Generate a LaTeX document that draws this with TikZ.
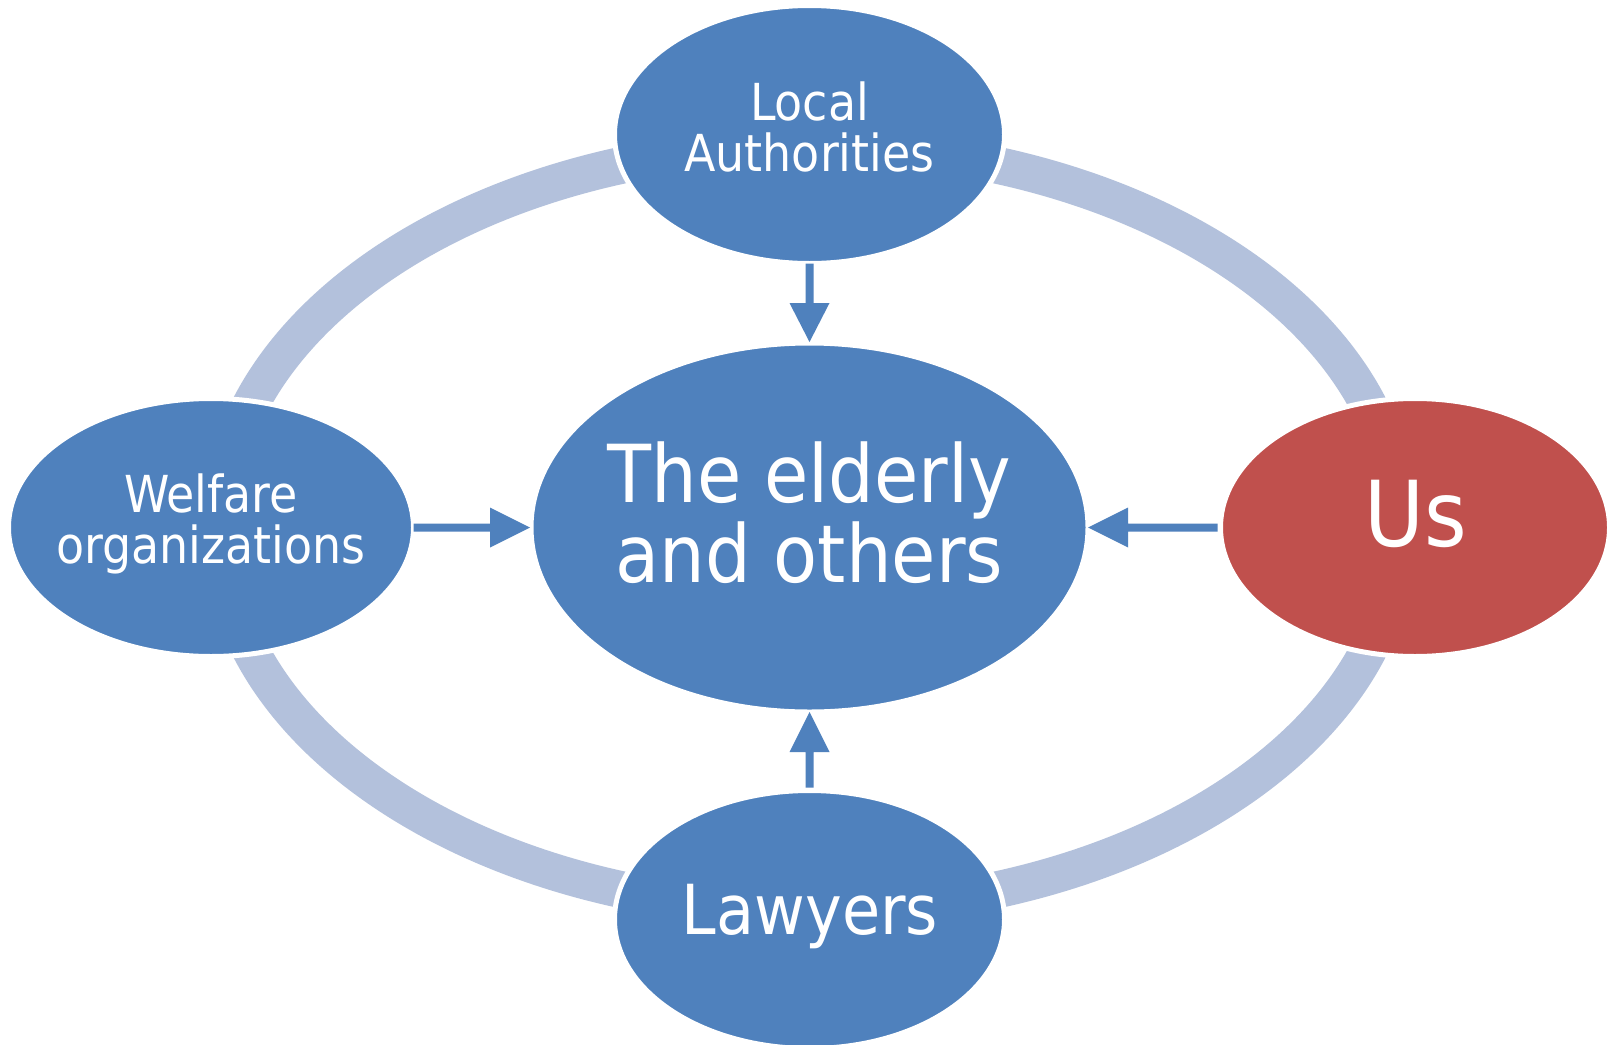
\documentclass[tikz,border=0pt]{standalone}
\usepackage{fontspec}
\setmainfont{DejaVu Sans Condensed}
\usetikzlibrary{shapes.geometric,calc}
\definecolor{blueC}{HTML}{4F81BD}
\definecolor{redC}{HTML}{C0504D}
\definecolor{bandC}{HTML}{B3C1DC}
\tikzset{
  bub/.style={ellipse, fill=blueC, draw=white, line width=5pt, inner sep=0pt, outer sep=0pt},
  lbl/.style={text=white, align=center, inner sep=0pt},
  arrc/.style={fill=blueC},
  band/.style={draw=bandC, line width=37pt}
}
\begin{document}
\begin{tikzpicture}[x=1pt,y=-1pt]
\useasboundingbox (0,0) rectangle (1608,1044);
\fill[white] (0,0) rectangle (1608,1044);
% ring band
\draw[band] (809.5,527.5) ellipse [x radius=590pt, y radius=382pt];
% nodes
\node[bub, minimum width=390pt, minimum height=258pt] (la) at (809.5,134.5) {};
\node[bub, minimum width=405pt, minimum height=258pt] (wo) at (211,527.5) {};
\node[bub, fill=redC, minimum width=389pt, minimum height=258pt] (us) at (1415,527.5) {};
\node[bub, minimum width=390pt, minimum height=258pt] (law) at (809.5,919.5) {};
\node[bub, minimum width=557pt, minimum height=369pt] (eld) at (809.5,527.5) {};
% texts
\node[lbl, font=\fontsize{51}{51}\selectfont] (la-t) at (809.5,127) {Local\\Authorities};
\node[lbl, font=\fontsize{51}{51}\selectfont] (wo-t) at (211,524) {Welfare\\organizations};
\node[lbl, font=\fontsize{80}{80}\selectfont] (eld-t) at (809.5,512.5) {The elderly\\and others};
\node[lbl, font=\fontsize{91}{91}\selectfont] (us-t) at (1416,514) {Us};
\node[lbl, font=\fontsize{69}{69}\selectfont] (law-t) at (810,917) {Lawyers};
% block arrows
\fill[arrc] ($(la.south)+(-4,0)$) -- ($(eld.north)+(-4,-40)$) -- ($(eld.north)+(-20,-40)$) -- ($(eld.north)+(0,-1)$) -- ($(eld.north)+(20,-40)$) -- ($(eld.north)+(4,-40)$) -- ($(la.south)+(4,0)$) -- cycle;
\fill[arrc] ($(wo.east)+(0,-4)$) -- ($(eld.west)+(-41,-4)$) -- ($(eld.west)+(-41,-20)$) -- ($(eld.west)+(-1,0)$) -- ($(eld.west)+(-41,20)$) -- ($(eld.west)+(-41,4)$) -- ($(wo.east)+(0,4)$) -- cycle;
\fill[arrc] ($(us.west)+(-3,-4)$) -- ($(eld.east)+(40,-4)$) -- ($(eld.east)+(40,-20)$) -- (eld.east) -- ($(eld.east)+(40,20)$) -- ($(eld.east)+(40,4)$) -- ($(us.west)+(-3,4)$) -- cycle;
\fill[arrc] ($(law.north)+(-4,-3)$) -- ($(eld.south)+(-4,40)$) -- ($(eld.south)+(-20,40)$) -- (eld.south) -- ($(eld.south)+(20,40)$) -- ($(eld.south)+(4,40)$) -- ($(law.north)+(4,-3)$) -- cycle;
\end{tikzpicture}
\end{document}
